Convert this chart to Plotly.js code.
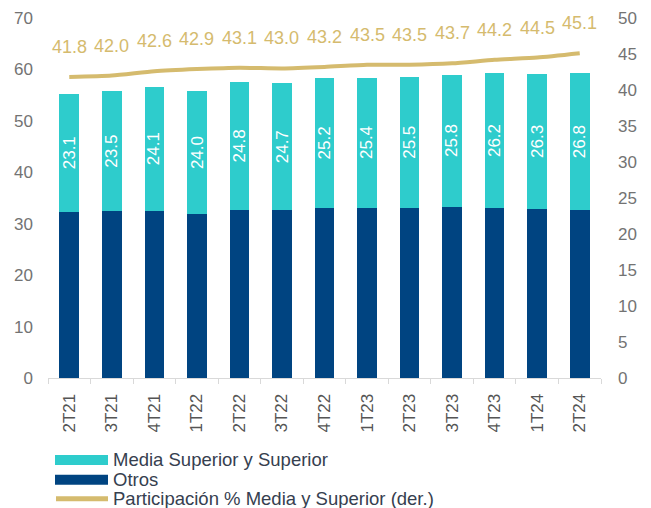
<!DOCTYPE html>
<html>
<head>
<meta charset="utf-8">
<script src="https://cdn.plot.ly/plotly-3.0.1.min.js"></script>
<style>html,body{margin:0;padding:0;background:#fff;}#chart{width:651px;height:508px;}</style>
</head>
<body>
<div id="chart"></div>
<script>
const categories = ["2T21","3T21","4T21","1T22","2T22","3T22","4T22","1T23","2T23","3T23","4T23","1T24","2T24"];
const otros = [32.2, 32.4, 32.5, 31.9, 32.7, 32.7, 33.1, 33.0, 33.1, 33.2, 33.1, 32.8, 32.6];
const mediaSuperior = [23.1, 23.5, 24.1, 24.0, 24.8, 24.7, 25.2, 25.4, 25.5, 25.8, 26.2, 26.3, 26.8];
const participacion = [41.8, 42.0, 42.6, 42.9, 43.1, 43.0, 43.2, 43.5, 43.5, 43.7, 44.2, 44.5, 45.1];
const legendLabels = ["Media Superior y Superior", "Otros", "Participación % Media y Superior (der.)"];

const cCyan = "#2ECCCC", cNavy = "#004481", cGold = "#D5BB6E";
const font = "Liberation Sans, Arial, sans-serif";

const traces = [
  {type:"bar", x:categories, y:otros, name:legendLabels[1], marker:{color:cNavy}, hoverinfo:"skip"},
  {type:"bar", x:categories, y:mediaSuperior, name:legendLabels[0], marker:{color:cCyan}, hoverinfo:"skip"},
  {type:"scatter", mode:"lines", x:categories, y:participacion, yaxis:"y2", name:legendLabels[2],
   line:{color:cGold, width:4, shape:"spline", smoothing:0.6}, hoverinfo:"skip"}
];

const annotations = [];
categories.forEach((c,i)=>{
  annotations.push({x:c, y:participacion[i], xref:"x", yref:"y2", text:participacion[i].toFixed(1),
    showarrow:false, yshift:30, font:{family:font, size:18, color:cGold}});
  annotations.push({x:c, y:otros[i] + mediaSuperior[i]/2, xref:"x", yref:"y", text:mediaSuperior[i].toFixed(1),
    showarrow:false, textangle:-90, font:{family:font, size:17, color:"#ffffff"}});
});

// custom legend (paper coords)
const plotH = 360.5, plotBottom = 378, plotLeft = 48, plotW = 553;
function py(px){ return (plotBottom - px)/plotH; }
function pxx(px){ return (px - plotLeft)/plotW; }
const legY = [460, 480, 499];
const shapes = [
  {type:"rect", xref:"paper", yref:"paper", x0:pxx(55), x1:pxx(108), y0:py(465), y1:py(455), fillcolor:cCyan, line:{width:0}},
  {type:"rect", xref:"paper", yref:"paper", x0:pxx(55), x1:pxx(108), y0:py(485), y1:py(475), fillcolor:cNavy, line:{width:0}},
  {type:"line", xref:"paper", yref:"paper", x0:pxx(56), x1:pxx(108), y0:py(499), y1:py(499), line:{color:cGold, width:5}}
];
legendLabels.forEach((t,i)=>{
  annotations.push({xref:"paper", yref:"paper", x:pxx(111), y:py(legY[i]), xanchor:"left", yanchor:"middle",
    text:t, showarrow:false, font:{family:font, size:18.5, color:"#36404F"}});
});

const layout = {
  width:651, height:508,
  margin:{l:48, r:50, t:17.5, b:130, pad:0},
  paper_bgcolor:"#ffffff", plot_bgcolor:"#ffffff",
  barmode:"stack", bargap:0.54,
  showlegend:false,
  font:{family:font, size:16, color:"#666666"},
  xaxis:{type:"category", showgrid:false, showline:true, linecolor:"#d9d9d9", linewidth:1,
    ticks:"outside", ticklen:5, tickcolor:"#d9d9d9", tickson:"boundaries", ticklabelstandoff:8,
    tickangle:-90, tickfont:{family:font, size:17, color:"#555555"}, fixedrange:true},
  yaxis:{range:[0,70], dtick:10, showgrid:false, zeroline:false, showline:false, ticks:"", ticklabelstandoff:14,
    tickfont:{family:font, size:17, color:"#737373"}},
  yaxis2:{range:[0,50], dtick:5, overlaying:"y", side:"right", showgrid:false, zeroline:false, showline:false,
    ticks:"", ticklabelstandoff:16, tickfont:{family:font, size:17, color:"#737373"}},
  annotations:annotations, shapes:shapes
};

Plotly.newPlot("chart", traces, layout, {staticPlot:true, displayModeBar:false});
</script>
</body>
</html>
